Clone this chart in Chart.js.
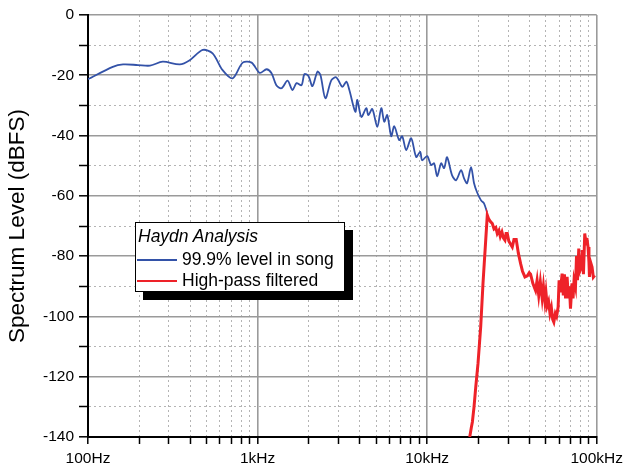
<!DOCTYPE html>
<html>
<head>
<meta charset="utf-8">
<script src="https://cdn.jsdelivr.net/npm/chart.js@4.4.1/dist/chart.umd.min.js"></script>
<style>
    body { margin: 0; background: #fff; }
    #wrap { position: relative; width: 628px; height: 464px; }
    #legendBox {
        position: absolute; left: 135px; top: 222px; width: 208px; height: 68px;
        border: 1px solid #000; background: #fff; box-shadow: 8px 8px 0 #000;
        font-family: "Liberation Sans", Arial, sans-serif; font-size: 17.5px; color: #000;
    }
    #legendBox .title { font-style: italic; position: absolute; left: 2px; top: 3px; }
    #legendBox .row { position: absolute; left: 1px; height: 20px; line-height: 20px; white-space: nowrap; }
    #legendBox .swatch { display: inline-block; width: 40px; height: 0; vertical-align: middle; margin-right: 5px; }
</style>
</head>
<body>
<div id="wrap">
    <canvas id="spectrumChart" width="628" height="464"></canvas>
    <div id="legendBox"><div class="title">Haydn Analysis</div></div>
</div>
<script>
// ── Data ──────────────────────────────────────────────────────────────────
const blueFreq = [100, 140, 161, 197, 232, 276, 348, 398, 475, 543,
    622, 713, 817, 922, 1030, 1130, 1209, 1290, 1384, 1502,
    1607, 1696, 1815, 1890, 1995, 2106, 2254, 2348, 2512, 2725,
    2915, 3162, 3339, 3477, 3772, 3874, 4091, 4377, 4498, 4748,
    5081, 5364, 5585, 5817, 6141, 6397, 6844, 7129, 7523, 8052,
    8616, 9095, 9346, 10000, 10557, 10995, 11454, 12091, 12589, 13111,
    14034, 14814, 15849, 16509, 17194, 18152, 18907, 19692, 20785, 21642,
    22535];
const blueLevel = [-21.3, -17.2, -16.4, -16.6, -16.8, -15.5, -16.4, -15, -11.6, -12.7,
    -18.3, -21, -15.8, -15.8, -19.2, -18, -19.3, -23.3, -24.3, -21.8,
    -24.9, -22.6, -23.3, -19.6, -20.2, -23.6, -18.8, -19.9, -27.6, -21.6,
    -20.7, -23.8, -22.1, -24.9, -32.1, -28.2, -33.8, -30.9, -33.2, -31.2,
    -37.1, -30.9, -35.4, -33.2, -40.2, -36.9, -41.5, -40.2, -44.8, -40.9,
    -47.1, -45.4, -48.2, -46.8, -49.8, -49.2, -53.5, -49.2, -50.8, -47.2,
    -53.2, -54.8, -51.5, -54.2, -55.8, -50.5, -55.8, -58.8, -61.5, -62.5,
    -65.4];

const redFreq = [17830, 18200, 18480, 18900, 19340, 19950, 20690, 21350, 22150, 22630,
    23000, 23600, 24220, 24800, 25400, 25910, 26500, 27000, 27620, 28200,
    28760, 29200, 29680, 30300, 31000, 31760, 32500, 33520, 34500, 35580,
    36500, 37720, 39000, 40000, 40740, 42000, 43590, 44500, 45500, 46500,
    47670, 48500, 49500, 50200, 51020, 52000, 53000, 54000, 55000, 55850,
    57000, 58000, 59210, 60000, 61000, 62510, 63500, 64500, 65500, 66890,
    68000, 69000, 70040, 71500, 72500, 73500, 74940, 76000, 77000, 78370,
    79500, 81280, 82500, 83500, 85000, 86500, 87500, 88890, 90000, 90600,
    92000, 93850, 95500, 97320];
const redLevel = [-140, -137, -135, -130, -123.5, -115.6, -103.5, -89, -74.7, -66.4,
    -67.5, -68.5, -69.2, -71, -70.5, -72.5, -71.5, -73.5, -72, -74,
    -74.7, -72.5, -72.5, -75, -76, -77, -74.5, -74.5, -79, -82.5,
    -85, -86.9, -86.5, -85.5, -86, -89, -91.4, -88, -93, -88.5,
    -94, -90, -95, -92, -96.5, -95, -99, -97, -101, -101.9,
    -99, -100, -96.9, -88, -92, -85.8, -93, -86, -94, -86.9,
    -94, -90, -97.4, -89, -94, -88, -90.3, -80, -88, -77.5,
    -85, -83.6, -78, -86, -72.5, -76, -74, -77, -82, -86.9,
    -82, -83.6, -87, -86.4];

const seriesNames = ['99.9% level in song', 'High-pass filtered'];
const seriesColors = ['#3352a8', '#ee2229'];

// x axis: grid every 1..9 per decade, labels only on decades
const decadeLabels = { 100: '100Hz', 1000: '1kHz', 10000: '10kHz', 100000: '100kHz' };
const freqTicks = [100, 200, 300, 400, 500, 600, 700, 800, 900,
    1000, 2000, 3000, 4000, 5000, 6000, 7000, 8000, 9000,
    10000, 20000, 30000, 40000, 50000, 60000, 70000, 80000, 90000, 100000];

const toPoints = (xs, ys) => xs.map((x, i) => ({ x: x, y: ys[i] }));

Chart.defaults.font.family = '"Liberation Sans", Arial, sans-serif';
Chart.defaults.color = '#000';

const majorGrid = '#9a9a9a';
const minorGrid = '#b4b4b4';

const ctx = document.getElementById('spectrumChart').getContext('2d');
const chart = new Chart(ctx, {
    type: 'line',
    data: {
        datasets: [
            { label: seriesNames[0], data: toPoints(blueFreq, blueLevel), borderColor: seriesColors[0],
              borderWidth: 1.8, pointRadius: 0, tension: 0.3, order: 1 },
            { label: seriesNames[1], data: toPoints(redFreq, redLevel), borderColor: seriesColors[1],
              borderWidth: 3, pointRadius: 0, tension: 0, order: 0 }
        ]
    },
    options: {
        responsive: false,
        animation: false,
        devicePixelRatio: 1,
        layout: { padding: { top: 15, right: 30, left: 0, bottom: 0 } },
        plugins: { legend: { display: false }, tooltip: { enabled: false } },
        scales: {
            x: {
                type: 'logarithmic',
                min: 100,
                max: 100000,
                afterBuildTicks: axis => {
                    axis.ticks = freqTicks.map(v => ({ value: v, major: v in decadeLabels }));
                },
                afterFit: axis => { axis.height = 27; },
                ticks: {
                    autoSkip: false, maxRotation: 0, padding: 5,
                    font: { size: 15.5 },
                    callback: v => decadeLabels[v] || ''
                },
                grid: {
                    color: c => (c.tick && c.tick.major) ? majorGrid : minorGrid,
                    lineWidth: c => (c.tick && c.tick.major) ? 1.6 : 1,
                    tickColor: '#000',
                    tickWidth: 1.5,
                    tickLength: 7,
                    tickBorderDash: []
                },
                border: {
                    color: '#000', width: 2,
                    dash: c => (c.tick && c.tick.major) ? [] : [2, 3]
                }
            },
            y: {
                min: -140,
                max: 0,
                afterFit: axis => { axis.width = 88; },
                ticks: {
                    stepSize: 10, padding: 5,
                    font: { size: 15.5 },
                    callback: v => (v % 20 === 0 ? String(v) : '')
                },
                title: {
                    display: true, text: 'Spectrum Level (dBFS)',
                    font: { size: 22.5 }, padding: { top: 4, bottom: 0 }
                },
                grid: {
                    color: c => (c.tick && c.tick.value % 20 === 0) ? majorGrid : minorGrid,
                    lineWidth: c => (c.tick && c.tick.value % 20 === 0) ? 1.6 : 1,
                    tickColor: '#000',
                    tickWidth: 1.5,
                    tickLength: 9,
                    tickBorderDash: []
                },
                border: {
                    color: '#000', width: 2,
                    dash: c => (c.tick && c.tick.value % 20 === 0) ? [] : [2, 3]
                }
            }
        }
    }
});

// Legend rows built from the datasets
const box = document.getElementById('legendBox');
chart.data.datasets.forEach((ds, i) => {
    const row = document.createElement('div');
    row.className = 'row';
    row.style.top = (26 + i * 21) + 'px';
    const sw = document.createElement('span');
    sw.className = 'swatch';
    sw.style.borderTop = '2px solid ' + ds.borderColor;
    row.appendChild(sw);
    row.appendChild(document.createTextNode(ds.label));
    box.appendChild(row);
});
</script>
</body>
</html>
